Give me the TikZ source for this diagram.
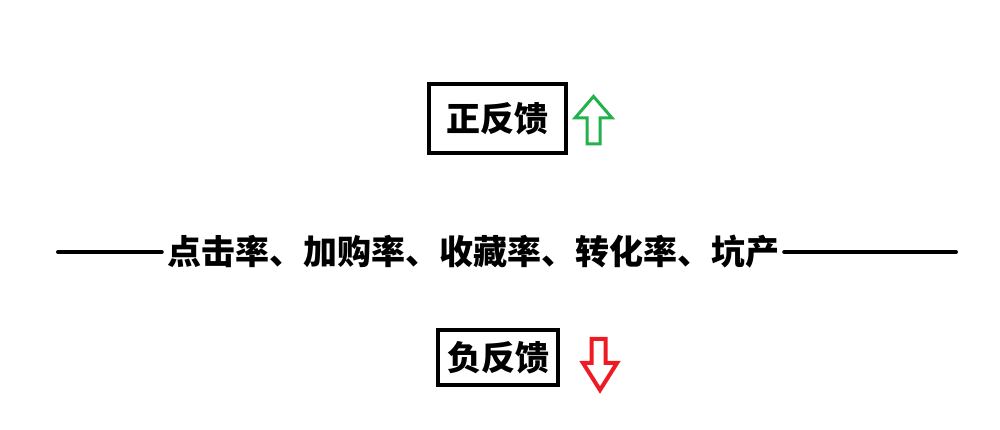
\documentclass[tikz,border=0pt]{standalone}
\usepackage{fontspec}
\newfontfamily\cjk{Noto Sans CJK SC}
\usetikzlibrary{positioning}
\definecolor{upgreen}{RGB}{34,177,76}
\definecolor{downred}{RGB}{237,28,36}

\begin{document}
\begin{tikzpicture}[
    x=1pt, y=1pt,
    label/.style={font=\cjk\bfseries\fontsize{34}{34}\selectfont, inner sep=0pt},
    fbbox/.style={rectangle, draw=black, line width=4pt, label, align=center},
    axis/.style={line width=4pt, line cap=round},
    uparrow/.style={draw=upgreen, line width=3pt, line join=miter},
    downarrow/.style={draw=downred, line width=4pt, line join=miter}
]
\useasboundingbox (0,0) rectangle (1000,430);

% Positive feedback box and arrow
\node[fbbox, minimum width=137pt, minimum height=69pt] (pos_fb) at (497.5,311.5) {正反馈};
\draw[uparrow] (593.5,333.5) -- (612,312) -- (600,312) -- (600,286)
    -- (587,286) -- (587,312) -- (575,312) -- cycle;

% Metrics line
\node[label, inner xsep=5pt] (metrics) at (473,178) {点击率、加购率、收藏率、转化率、坑产};
\coordinate (line_left) at (58,178);
\coordinate (line_right) at (956,178);
\draw[axis] (line_left) -- (metrics.west);
\draw[axis] (metrics.east) -- (line_right);

% Negative feedback box and arrow
\node[fbbox, minimum width=120pt, minimum height=55pt] (neg_fb) at (498,72.5) {负反馈};
\draw[downarrow] (591.5,91) -- (605.5,91) -- (605.5,67) -- (617,67)
    -- (600,40) -- (583,67) -- (591.5,67) -- cycle;

\end{tikzpicture}
\end{document}
